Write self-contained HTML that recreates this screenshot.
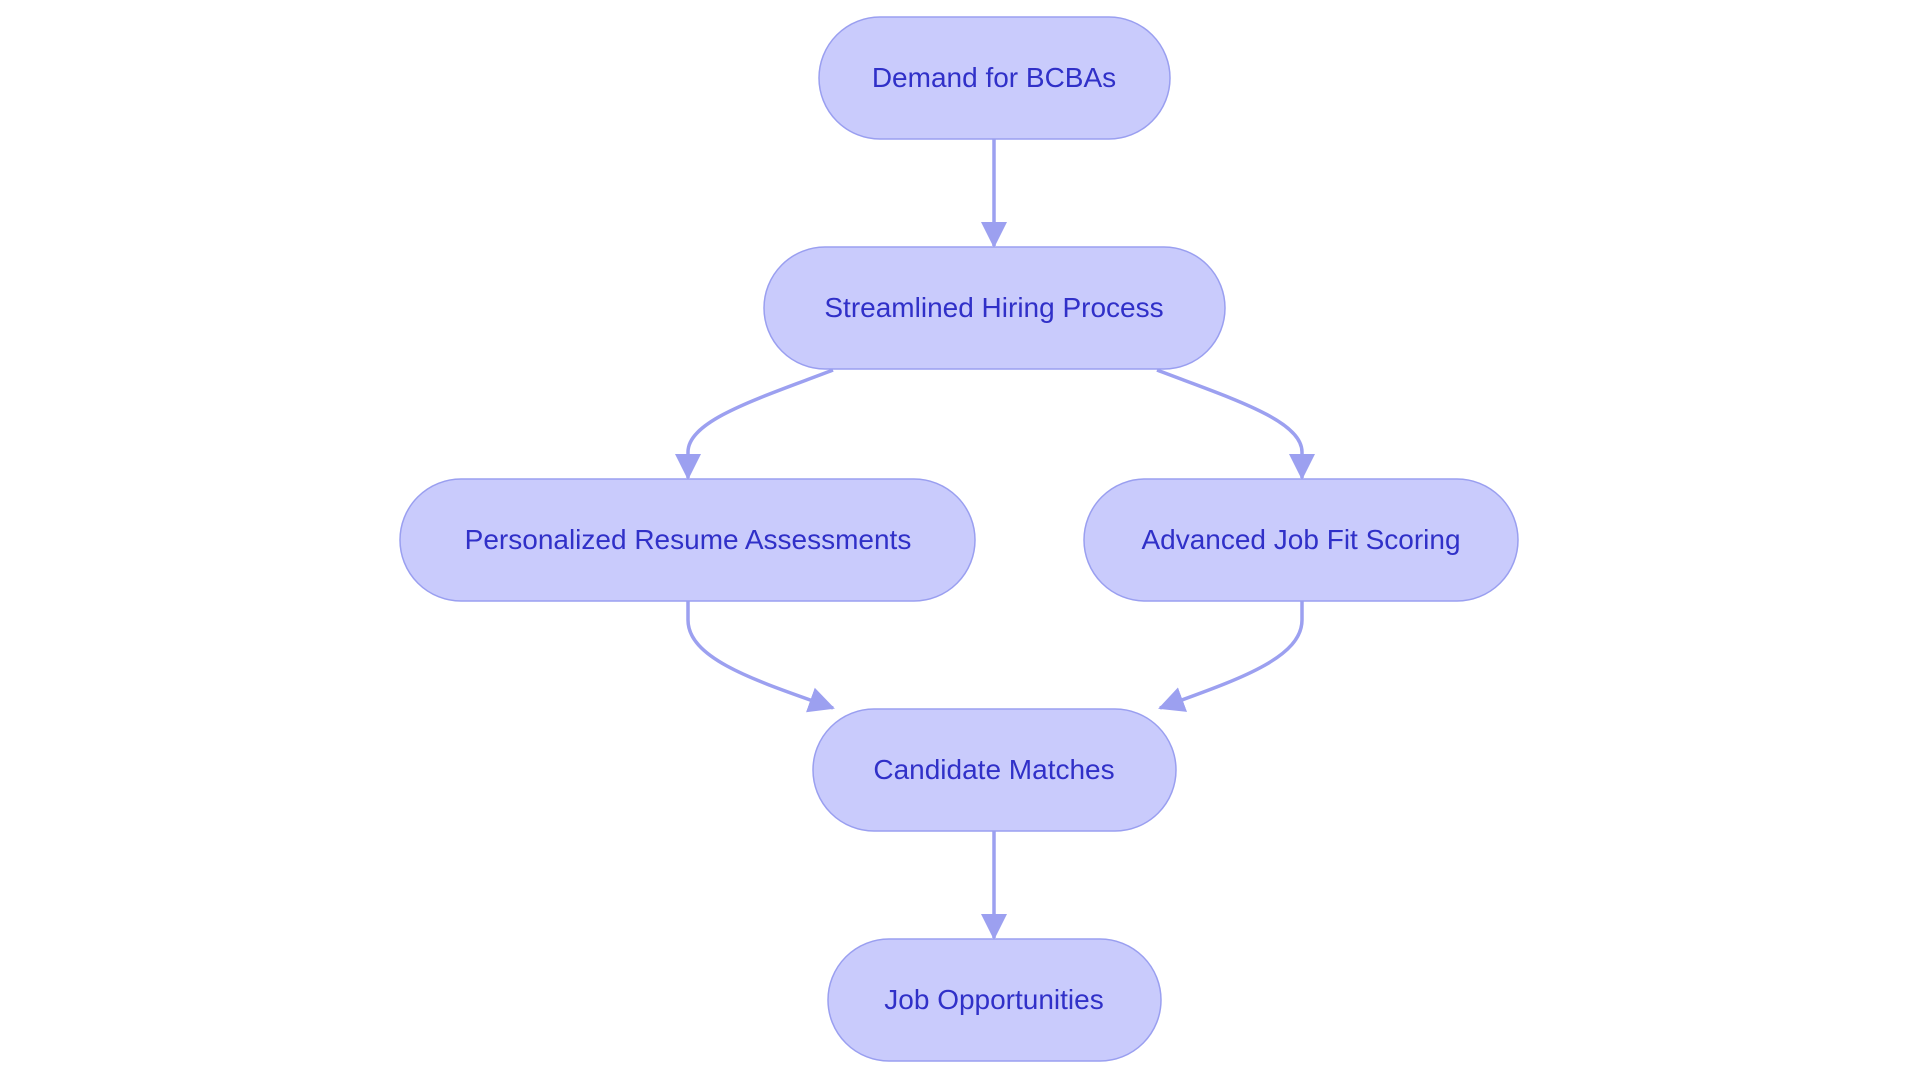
<!DOCTYPE html>
<html><head><meta charset="utf-8"><style>
html,body{margin:0;padding:0;background:#fff;width:1920px;height:1083px;overflow:hidden}
svg{display:block}
text{font-family:"Liberation Sans",sans-serif;font-size:28px;fill:#3030c8}
</style></head><body>
<svg width="1920" height="1083" viewBox="0 0 1920 1083">
<defs><marker id="a" markerWidth="10" markerHeight="10" refX="9" refY="5" orient="auto" markerUnits="userSpaceOnUse" viewBox="0 0 10 10"><path d="M0,0 L10,5 L0,10 z" fill="#9ca0f0"/></marker>
<marker id="b" markerWidth="26" markerHeight="26" refX="24" refY="13" orient="auto" markerUnits="userSpaceOnUse" viewBox="0 0 26 26"><path d="M0,0 L26,13 L0,26 z" fill="#9ca0f0"/></marker></defs>
<g fill="none" stroke="#9ca0f0" stroke-width="3.5">
<path d="M994,139 L994,246" marker-end="url(#b)"/>
<path d="M833,370 C760,398 688,420 688,452 L688,478" marker-end="url(#b)"/>
<path d="M1157,370 C1230,398 1302,420 1302,452 L1302,478" marker-end="url(#b)"/>
<path d="M688,600 L688,620 C688,660 760,682 833,708" marker-end="url(#b)"/>
<path d="M1302,600 L1302,620 C1302,660 1230,682 1160,708" marker-end="url(#b)"/>
<path d="M994,831 L994,938" marker-end="url(#b)"/>
</g>
<g fill="#c9cbfc" stroke="#9a9ff0" stroke-width="1.5">
<rect x="819" y="17" width="351" height="122" rx="61"/>
<rect x="764" y="247" width="461" height="122" rx="61"/>
<rect x="400" y="479" width="575" height="122" rx="61"/>
<rect x="1084" y="479" width="434" height="122" rx="61"/>
<rect x="813" y="709" width="363" height="122" rx="61"/>
<rect x="828" y="939" width="333" height="122" rx="61"/>
</g>
<g text-anchor="middle">
<text x="994" y="87">Demand for BCBAs</text>
<text x="994" y="317">Streamlined Hiring Process</text>
<text x="688" y="549">Personalized Resume Assessments</text>
<text x="1301" y="549">Advanced Job Fit Scoring</text>
<text x="994" y="779">Candidate Matches</text>
<text x="994" y="1009">Job Opportunities</text>
</g>
</svg>
</body></html>
